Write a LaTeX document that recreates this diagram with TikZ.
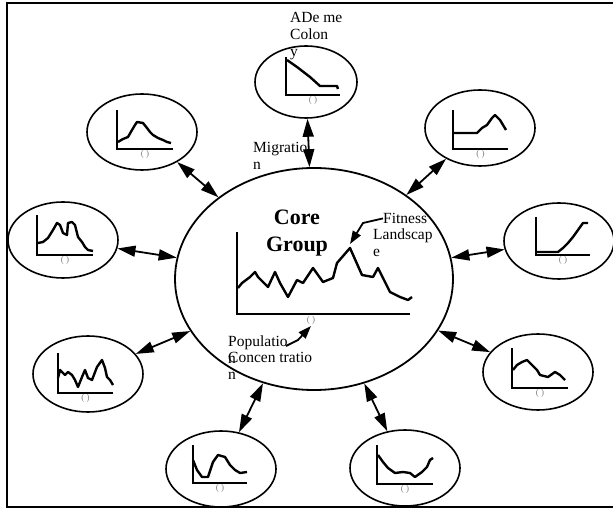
\documentclass[tikz,border=0pt]{standalone}
\usepackage{fontspec}
\setmainfont{Liberation Serif}
\usetikzlibrary{arrows.meta,shapes.geometric}

% axes, gap mark and curve of one small landscape inside a deme
\newcommand{\demeplot}[6]{%
  \begin{scope}[shift={(#1.center)}]
    \draw[axisline] (#2,#3) -- (#2,#5) -- (#4,#5);
    \node[blank] (#1u) at ({(#2+#4)/2},{#5+5}) {( )};
    \draw[fitline] plot coordinates {#6};
  \end{scope}}

\begin{document}
\begin{tikzpicture}[x=1pt,y=-1pt,
  every node/.style={inner sep=0pt},
  deme/.style={ellipse,draw,line width=1.6pt,minimum width=110pt,minimum height=76pt},
  coregroup/.style={ellipse,draw,line width=1.8pt,minimum width=278pt,minimum height=222pt},
  mig/.style={{Triangle[length=18pt,width=11pt]}-{Triangle[length=18pt,width=11pt]},line width=1.8pt},
  axisline/.style={line width=1.7pt},
  fitline/.style={line width=2.4pt,line join=round},
  blank/.style={font=\fontsize{9}{9}\selectfont,text=gray},
  lbl/.style={font=\fontsize{15.5}{17}\selectfont,align=left,anchor=north west},
  lblarrow/.style={-{Triangle[length=13pt,width=9pt]},line width=1.8pt}]
\useasboundingbox (0,0) rectangle (613,510);
\draw[line width=2pt] (620,3) -- (7,3) -- (7,507) -- (620,507);

% demes
\node[coregroup] (core) at (314,279) {};
\node[deme,minimum width=102pt,minimum height=72pt] (top) at (306,82) {};
\node[deme] (ul) at (142,132) {};
\node[deme] (ur) at (480,128) {};
\node[deme] (lf) at (63,240) {};
\node[deme] (rt) at (559,241) {};
\node[deme] (ll) at (88,374) {};
\node[deme] (lr) at (538,372) {};
\node[deme] (bl) at (221,469) {};
\node[deme] (br) at (405,468) {};

% migration links
\foreach \d in {top,ul,ur,lf,rt,ll,lr,bl,br}
  \draw[mig] (core) -- (\d);

% small landscapes
\demeplot{top}{-20}{-25}{34}{13}{(-19,-22) (-9,-15) (4,-5) (14,4) (31,4) (32,7)}
\demeplot{ul}{-25}{-22}{31}{17}{(-24,10) (-19,7) (-14,5) (-10,-2) (-7,-7) (-5,-10) (1,-9) (5,-4) (8,0) (11,3) (16,6) (21,8) (25,10) (29,11)}
\demeplot{lf}{-26}{-25}{30}{15}{(-25,3) (-20,2) (-15,-2) (-10,-10) (-6,-17) (-3,-15) (0,-7) (4,-5) (5,-17) (9,-18) (12,-15) (15,-3) (19,2) (22,7) (25,10) (30,11)}
\demeplot{ur}{-27}{-18}{28}{21}{(-27,5) (-3,5) (2,0) (7,-3) (12,-10) (15,-13) (20,-8) (23,-3) (26,2)}
\demeplot{rt}{-23}{-24}{31}{14}{(-22,11) (-1,11) (4,7) (9,2) (14,-4) (19,-11) (24,-18) (29,-18)}
\demeplot{ll}{-30}{-21}{25}{19}{(-30,4) (-28,-4) (-23,1) (-20,-2) (-16,1) (-13,6) (-10,13) (-6,3) (-3,-4) (0,4) (4,6) (9,-7) (14,-14) (17,-6) (19,3) (22,6) (25,11)}
\demeplot{bl}{-28}{-24}{26}{14}{(-28,-9) (-24,1) (-19,8) (-13,8) (-8,-7) (-3,-14) (4,-12) (9,-4) (14,1) (19,4) (26,3)}
\demeplot{br}{-28}{-23}{28}{16}{(-27,-13) (-22,-6) (-17,0) (-10,5) (-2,4) (5,5) (10,9) (17,4) (22,-1) (25,-8) (28,-10)}
\demeplot{lr}{-26}{-24}{30}{16}{(-25,-2) (-21,-7) (-16,-10) (-11,-12) (-6,-7) (-1,-2) (2,3) (10,5) (17,0) (22,3) (27,8)}

% core landscape
\draw[axisline] (237,232) -- (237,314) -- (410,314);
\node[blank] (coreu) at (311,320) {( )};
\draw[fitline] plot coordinates {(238,288) (242,283) (250,277) (255,272) (258,277) (268,287) (275,272) (280,283) (288,297) (297,280) (303,283) (313,268) (323,282) (333,278) (337,263) (350,248) (362,275) (373,277) (378,268) (390,292) (400,297) (408,300) (412,297)};

% labels
\node[font=\fontsize{22}{27}\selectfont\bfseries,align=center,anchor=north] (corelbl) at (297,210) {Core\\Group};
\node[lbl] (demelbl) at (290,12) {ADe me\\Colon\\y};
\node[lbl] (miglbl) at (253,142) {Migratio\\n};
\node[lbl] (fit1) at (383,213) {Fitness};
\node[lbl] (fit2) at (373,229) {Landscap\\e};
\node[lbl] (pop1) at (228,336) {Populatio\\n};
\node[lbl] (pop2) at (228,352) {Concen tratio\\n};

\coordinate (fitx) at (350,244);
\draw[lblarrow] (fit1.west) -- (363,223) -- (fitx);
\coordinate (popa) at (286,346);
\coordinate (popx) at (311,326);
\draw[lblarrow] (popa) -- (298,340) -- (popx);
\end{tikzpicture}
\end{document}
